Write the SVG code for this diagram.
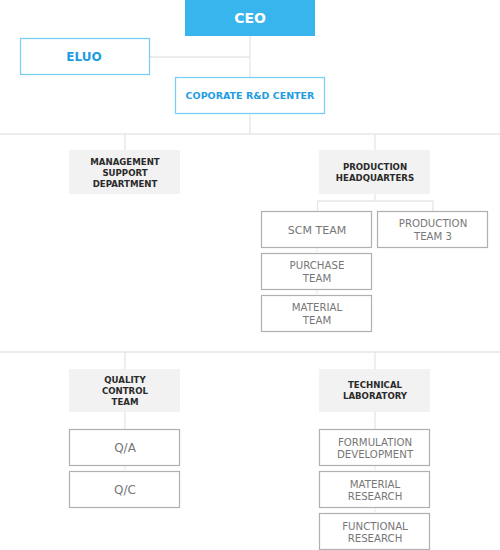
<svg xmlns="http://www.w3.org/2000/svg" width="500" height="550" viewBox="0 0 500 550">
<style>
.ln{stroke:#e6e6e6;stroke-width:1.3;fill:none}
.lf{stroke:#e0e0e0;stroke-width:1;fill:none;stroke-dasharray:2 1}
.blue{fill:#fff;stroke:#7ccdf2;stroke-width:1.3}
.grey{fill:#f2f2f2}
.wb{fill:#fff;stroke:#b0b0b0;stroke-width:1.2}
.tb{font-family:"DejaVu Sans","Liberation Sans",sans-serif;font-weight:bold;fill:#1e9ce2;text-anchor:middle}
.td{font-family:"DejaVu Sans","Liberation Sans",sans-serif;font-weight:bold;font-size:8.6px;fill:#2a2a2a;text-anchor:middle}
.tg{font-family:"DejaVu Sans","Liberation Sans",sans-serif;font-weight:normal;font-size:10.2px;fill:#777;text-anchor:middle}
</style>
<g id="connectors">
<path class="ln" d="M250 36V77M150 57H250M250 113V134M0 134H500M125 134V150M375 134V150M375 194V201M317.5 201H433M317.5 201V211M433 201V211"/>
<path class="ln" d="M0 352H500M125 352V369M375 352V369M125 412V429M375 412V429"/>
<path class="lf" d="M317 247V253M317 289V295M125 465V471M375 465V471M375 507V513"/>
</g>
<g id="ceo"><rect x="185" y="0" width="130" height="36" fill="#37b5ec"/><text x="250" y="23" class="tb" style="fill:#fff;font-size:14px">CEO</text></g>
<g id="eluo"><rect x="20.5" y="38.5" width="129" height="36" class="blue"/><text x="84" y="61" class="tb" style="font-size:12px">ELUO</text></g>
<g id="rnd"><rect x="175.5" y="77.5" width="149" height="36" class="blue"/><text x="250" y="99" class="tb" style="font-size:9.5px">COPORATE R&amp;D CENTER</text></g>
<g id="msd"><rect x="69" y="150" width="111" height="44" class="grey"/><text class="td" x="125" y="165">MANAGEMENT</text><text class="td" x="125" y="176">SUPPORT</text><text class="td" x="125" y="187">DEPARTMENT</text></g>
<g id="phq"><rect x="319" y="150" width="111" height="44" class="grey"/><text class="td" x="375" y="170">PRODUCTION</text><text class="td" x="375" y="181">HEADQUARTERS</text></g>
<g id="scm"><rect x="261.5" y="211.5" width="110" height="36" class="wb"/><text class="tg" x="317" y="234" style="font-size:11px">SCM TEAM</text></g>
<g id="pt3"><rect x="377.5" y="211.5" width="110" height="36" class="wb"/><text class="tg" x="433" y="227">PRODUCTION</text><text class="tg" x="433" y="240">TEAM 3</text></g>
<g id="purchase"><rect x="261.5" y="253.5" width="110" height="36" class="wb"/><text class="tg" x="317" y="269">PURCHASE</text><text class="tg" x="317" y="282">TEAM</text></g>
<g id="material"><rect x="261.5" y="295.5" width="110" height="36" class="wb"/><text class="tg" x="317" y="311">MATERIAL</text><text class="tg" x="317" y="324">TEAM</text></g>
<g id="qct"><rect x="69" y="369" width="111" height="43" class="grey"/><text class="td" x="125" y="383">QUALITY</text><text class="td" x="125" y="394">CONTROL</text><text class="td" x="125" y="405">TEAM</text></g>
<g id="tlab"><rect x="319" y="369" width="111" height="43" class="grey"/><text class="td" x="375" y="388">TECHNICAL</text><text class="td" x="375" y="399">LABORATORY</text></g>
<g id="qa"><rect x="69.5" y="429.5" width="110" height="36" class="wb"/><text class="tg" x="125" y="452" style="font-size:12px">Q/A</text></g>
<g id="qc"><rect x="69.5" y="471.5" width="110" height="36" class="wb"/><text class="tg" x="125" y="494" style="font-size:12px">Q/C</text></g>
<g id="formulation"><rect x="319.5" y="429.5" width="110" height="36" class="wb"/><text class="tg" x="375" y="446">FORMULATION</text><text class="tg" x="375" y="458">DEVELOPMENT</text></g>
<g id="matres"><rect x="319.5" y="471.5" width="110" height="36" class="wb"/><text class="tg" x="375" y="488">MATERIAL</text><text class="tg" x="375" y="500">RESEARCH</text></g>
<g id="funcres"><rect x="319.5" y="513.5" width="110" height="36" class="wb"/><text class="tg" x="375" y="530">FUNCTIONAL</text><text class="tg" x="375" y="542">RESEARCH</text></g>
</svg>
